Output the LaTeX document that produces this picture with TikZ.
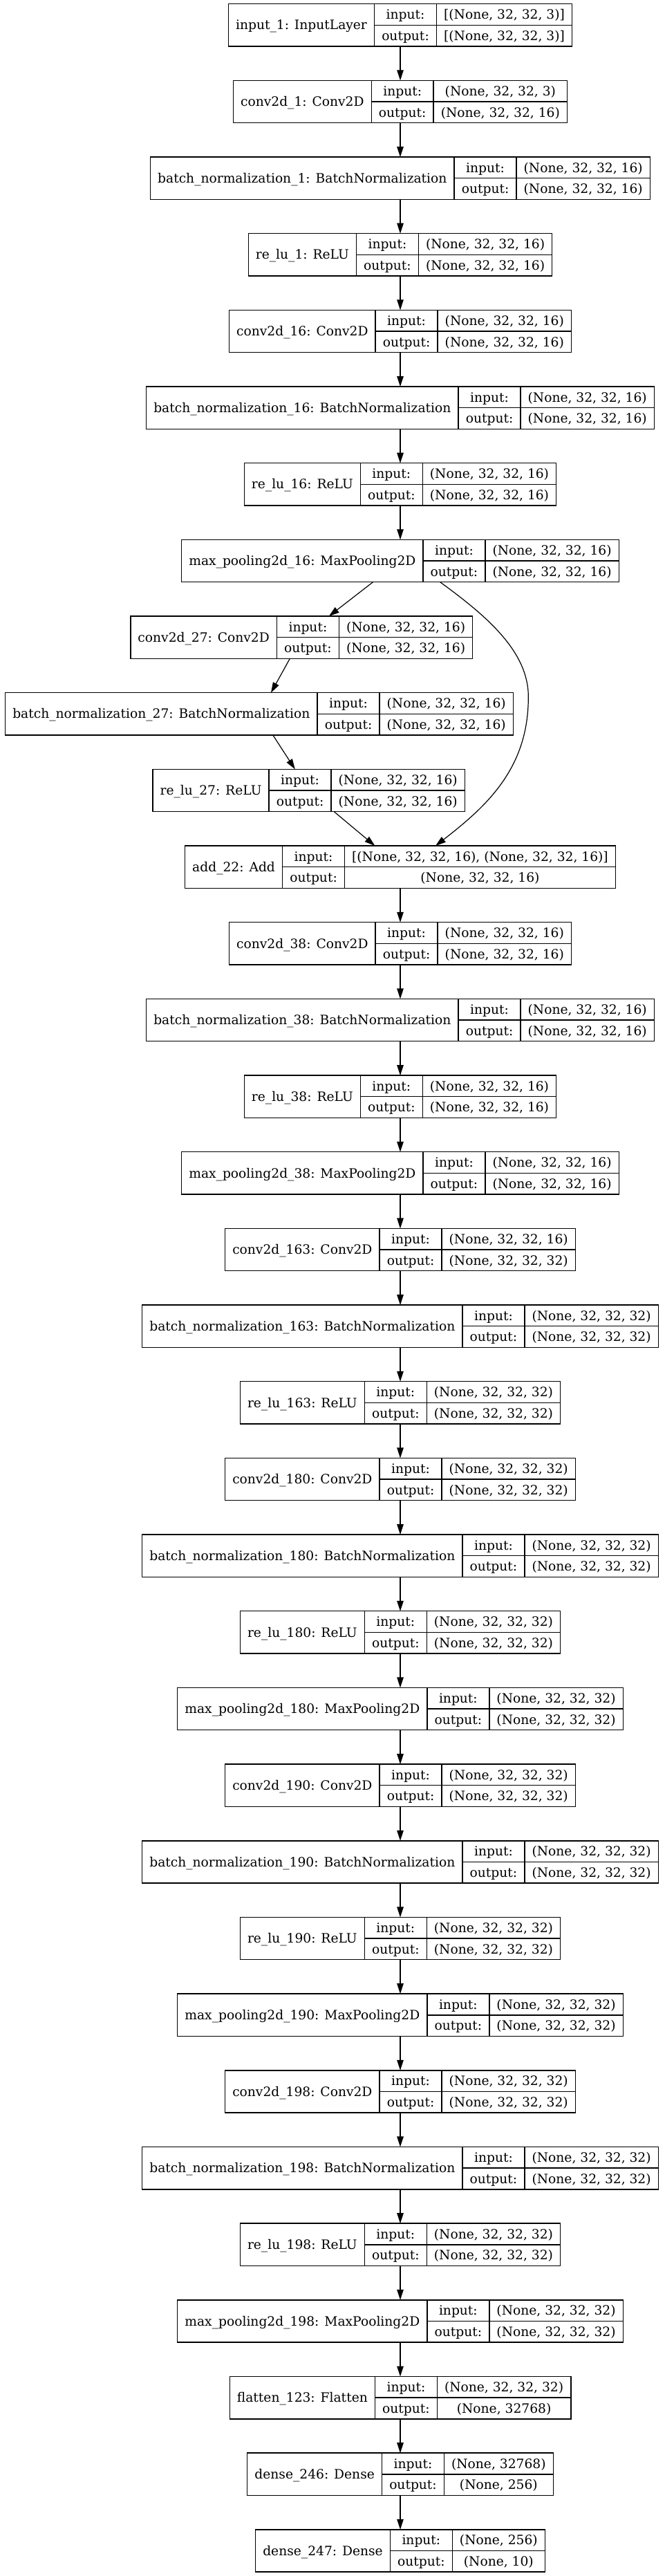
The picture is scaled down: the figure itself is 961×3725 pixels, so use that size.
\documentclass[tikz,border=0pt]{standalone}
\usepackage{fontspec}
\setmainfont{DejaVu Serif}
\usetikzlibrary{arrows.meta,calc}
\newlength\recwa \newlength\recwb \newlength\recwc \newlength\recwd
\font\recrawfont="DejaVu Serif" at 18.67pt
\tikzset{
  recbox/.style={draw, line width=1.4pt, inner sep=0pt, outer sep=0pt, minimum height=61.3pt},
  recline/.style={line width=1.4pt},
  rectext/.style={anchor=base, inner sep=0pt, font=\recrawfont},
  edge/.style={line width=1.2pt, -{Triangle[length=15pt,width=9.5pt]}},
}
% #1 node name, #2 centre x, #3 row index, #4 title, #5 input shape, #6 output shape
\newcommand\rec[6]{%
  \settowidth\recwa{\recrawfont #4}%
  \settowidth\recwb{\recrawfont output:}%
  \settowidth\recwc{\recrawfont #5}%
  \settowidth\recwd{\recrawfont #6}%
  \ifdim\recwd>\recwc \recwc=\recwd\fi
  \pgfmathsetmacro\recA{\recwa+21.33}%
  \pgfmathsetmacro\recB{\recwb+21.33}%
  \pgfmathsetmacro\recC{\recwc+21.33}%
  \pgfmathsetmacro\recW{\recA+\recB+\recC}%
  \pgfmathsetmacro\recX{#2-\recW/2}%
  \pgfmathsetmacro\recY{-(36.35+#3*110.67)}%
  \node[recbox, minimum width=\recW pt] (#1) at (#2,\recY) {};
  \draw[recline] (\recX+\recA,\recY+30.65) -- (\recX+\recA,\recY-30.65)
    (\recX+\recA+\recB,\recY+30.65) -- (\recX+\recA+\recB,\recY-30.65)
    (\recX+\recA,\recY) -- (\recX+\recW,\recY);
  \node[rectext] at (\recX+\recA/2,\recY-6.6) {#4};
  \node[rectext] at (\recX+\recA+\recB/2,\recY+15.33-6.8) {input:};
  \node[rectext] at (\recX+\recA+\recB/2,\recY-15.33-6.8) {output:};
  \node[rectext] at (\recX+\recA+\recB+\recC/2,\recY+15.33-6.8) {#5};
  \node[rectext] at (\recX+\recA+\recB+\recC/2,\recY-15.33-6.8) {#6};
}
\begin{document}
\begin{tikzpicture}[x=1pt,y=1pt]
\useasboundingbox (0,0) rectangle (961,-3725);
\def\sa{(None, 32, 32, 16)}
\def\sb{(None, 32, 32, 32)}
\rec{n0}{579}{0}{input\_1: InputLayer}{[(None, 32, 32, 3)]}{[(None, 32, 32, 3)]}
\rec{n1}{579}{1}{conv2d\_1: Conv2D}{(None, 32, 32, 3)}{\sa}
\rec{n2}{579}{2}{batch\_normalization\_1: BatchNormalization}{\sa}{\sa}
\rec{n3}{579}{3}{re\_lu\_1: ReLU}{\sa}{\sa}
\rec{n4}{579}{4}{conv2d\_16: Conv2D}{\sa}{\sa}
\rec{n5}{579}{5}{batch\_normalization\_16: BatchNormalization}{\sa}{\sa}
\rec{n6}{579}{6}{re\_lu\_16: ReLU}{\sa}{\sa}
\rec{n7}{579}{7}{max\_pooling2d\_16: MaxPooling2D}{\sa}{\sa}
\rec{n8}{436.3}{8}{conv2d\_27: Conv2D}{\sa}{\sa}
\rec{n9}{375}{9}{batch\_normalization\_27: BatchNormalization}{\sa}{\sa}
\rec{n10}{446.7}{10}{re\_lu\_27: ReLU}{\sa}{\sa}
\rec{n11}{579}{11}{add\_22: Add}{[(None, 32, 32, 16), (None, 32, 32, 16)]}{\sa}
\rec{n12}{579}{12}{conv2d\_38: Conv2D}{\sa}{\sa}
\rec{n13}{579}{13}{batch\_normalization\_38: BatchNormalization}{\sa}{\sa}
\rec{n14}{579}{14}{re\_lu\_38: ReLU}{\sa}{\sa}
\rec{n15}{579}{15}{max\_pooling2d\_38: MaxPooling2D}{\sa}{\sa}
\rec{n16}{579}{16}{conv2d\_163: Conv2D}{\sa}{\sb}
\rec{n17}{579}{17}{batch\_normalization\_163: BatchNormalization}{\sb}{\sb}
\rec{n18}{579}{18}{re\_lu\_163: ReLU}{\sb}{\sb}
\rec{n19}{579}{19}{conv2d\_180: Conv2D}{\sb}{\sb}
\rec{n20}{579}{20}{batch\_normalization\_180: BatchNormalization}{\sb}{\sb}
\rec{n21}{579}{21}{re\_lu\_180: ReLU}{\sb}{\sb}
\rec{n22}{579}{22}{max\_pooling2d\_180: MaxPooling2D}{\sb}{\sb}
\rec{n23}{579}{23}{conv2d\_190: Conv2D}{\sb}{\sb}
\rec{n24}{579}{24}{batch\_normalization\_190: BatchNormalization}{\sb}{\sb}
\rec{n25}{579}{25}{re\_lu\_190: ReLU}{\sb}{\sb}
\rec{n26}{579}{26}{max\_pooling2d\_190: MaxPooling2D}{\sb}{\sb}
\rec{n27}{579}{27}{conv2d\_198: Conv2D}{\sb}{\sb}
\rec{n28}{579}{28}{batch\_normalization\_198: BatchNormalization}{\sb}{\sb}
\rec{n29}{579}{29}{re\_lu\_198: ReLU}{\sb}{\sb}
\rec{n30}{579}{30}{max\_pooling2d\_198: MaxPooling2D}{\sb}{\sb}
\rec{n31}{579}{31}{flatten\_123: Flatten}{\sb}{(None, 32768)}
\rec{n32}{579}{32}{dense\_246: Dense}{(None, 32768)}{(None, 256)}
\rec{n33}{579}{33}{dense\_247: Dense}{(None, 256)}{(None, 10)}
% straight chain
\foreach \a/\b in {n0/n1,n1/n2,n2/n3,n3/n4,n4/n5,n5/n6,n6/n7,n7/n8,n8/n9,n9/n10,n10/n11,
  n11/n12,n12/n13,n13/n14,n14/n15,n15/n16,n16/n17,n17/n18,n18/n19,n19/n20,n20/n21,n21/n22,
  n22/n23,n23/n24,n24/n25,n25/n26,n26/n27,n27/n28,n28/n29,n29/n30,n30/n31,n31/n32,n32/n33}
  \draw[edge] (\a) -- (\b);
% skip connection
\coordinate (skipS) at ($(n7.south)+(57.7,0)$);
\coordinate (skipE) at ($(n11.north)+(51,0)$);
\draw[edge] (skipS) .. controls (700,-888) and (764,-940) .. (764.3,-1006.7)
  .. controls (765,-1110) and (705,-1165) .. (skipE);
\end{tikzpicture}
\end{document}
